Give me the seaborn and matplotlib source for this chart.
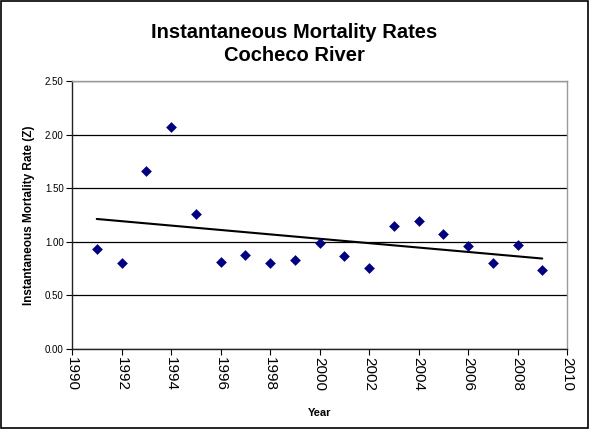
import matplotlib
matplotlib.use("Agg")
import matplotlib.pyplot as plt
import seaborn as sns
import numpy as np
import pandas as pd

years = [1991, 1992, 1993, 1994, 1995, 1996, 1997, 1998, 1999, 2000,
         2001, 2002, 2003, 2004, 2005, 2006, 2007, 2008, 2009]
z_rates = [0.93, 0.80, 1.66, 2.07, 1.26, 0.81, 0.88, 0.80, 0.83, 0.99,
           0.87, 0.76, 1.15, 1.19, 1.07, 0.96, 0.80, 0.97, 0.74]
x_ticks = list(range(1990, 2011, 2))
y_ticks = [0.0, 0.5, 1.0, 1.5, 2.0, 2.5]

df = pd.DataFrame({"Year": years, "Z": z_rates})

sns.set_style("white")
plt.rcParams['font.family'] = ['Liberation Sans', 'DejaVu Sans']
plt.rcParams['text.color'] = 'black'
plt.rcParams['axes.labelcolor'] = 'black'
plt.rcParams['xtick.color'] = 'black'
plt.rcParams['ytick.color'] = 'black'

fig = plt.figure(figsize=(5.89, 4.29), dpi=100)
ax = fig.add_axes([72/589, 1 - 349/429, (567-72)/589, (349-81)/429])

ax.set_axisbelow(True)
ax.yaxis.grid(True, color='black', linewidth=0.9)
ax.xaxis.grid(False)

sns.scatterplot(data=df, x="Year", y="Z", marker='D', s=30, color='#000080',
                edgecolor='#000080', linewidth=0, ax=ax, zorder=3)
coef = np.polyfit(df["Year"], df["Z"], 1)
xs = np.array([years[0], years[-1]])
sns.lineplot(x=xs, y=np.polyval(coef, xs), color='black', linewidth=1.5, ax=ax, zorder=2)

ax.set_xlim(1990, 2010)
ax.set_ylim(0, 2.5)
ax.set_xticks(x_ticks)
ax.set_xticklabels([str(t) for t in x_ticks], rotation=270, fontsize=11)
ax.set_yticks(y_ticks)
ax.set_yticklabels([f"{t:.2f}" for t in y_ticks], fontsize=7)
ax.tick_params(axis='both', direction='out', length=4, width=0.8, color='black', pad=2,
               bottom=True, left=True)

for s in ['left', 'bottom']:
    ax.spines[s].set_color('#222222')
    ax.spines[s].set_linewidth(1.0)
for s in ['top', 'right']:
    ax.spines[s].set_color('#999999')
    ax.spines[s].set_linewidth(1.0)

ax.set_xlabel("Year", fontsize=8, fontweight='bold', labelpad=12)
ax.set_ylabel("Instantaneous Mortality Rate (Z)", fontsize=8.5, fontweight='bold', labelpad=7)

fig.text(0.5, 1 - 44/429, "Instantaneous Mortality Rates\nCocheco River", ha='center', va='center',
         fontsize=14.5, fontweight='bold', linespacing=1.3)

fig.patches.append(plt.Rectangle((0.002, 0.002), 0.996, 0.996, transform=fig.transFigure,
                                 fill=False, edgecolor='black', linewidth=1.2))

fig.savefig("out.png", dpi=100)
